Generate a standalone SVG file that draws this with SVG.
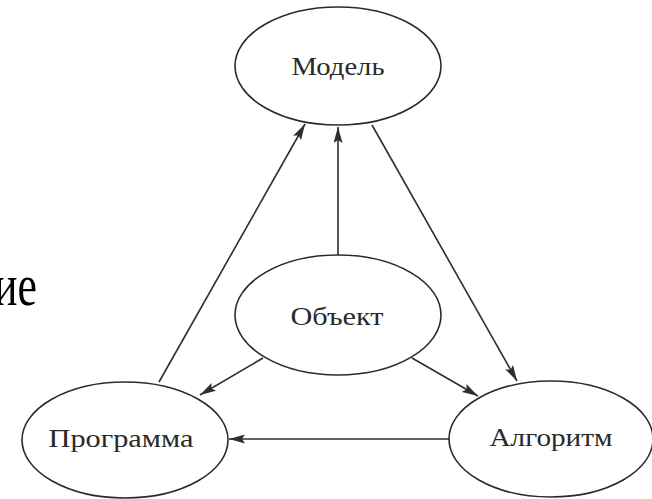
<svg xmlns="http://www.w3.org/2000/svg" width="652" height="499" viewBox="0 0 652 499">
<style>
.node ellipse{fill:#fff;stroke:#2a2a2a;stroke-width:1.6}
.node text{font-family:"Liberation Serif","Times New Roman",serif;font-size:25px;fill:#2a2a2a;text-anchor:middle}
.edges line{stroke:#2e2e2e;stroke-width:1.6;marker-end:url(#arr)}
.big{font-family:"Liberation Serif","Times New Roman",serif;font-size:60px;fill:#000}
</style>
<defs>
<marker id="arr" markerUnits="userSpaceOnUse" markerWidth="18" markerHeight="10" refX="16" refY="4.5" orient="auto">
<path d="M0,0 L16,4.5 L0,9 L3,4.5 z" fill="#2e2e2e"/>
</marker>
</defs>
<rect width="652" height="499" fill="#fff"/>
<text class="big" x="-6" y="305" textLength="43" lengthAdjust="spacingAndGlyphs">ие</text>
<g class="edges">
<line x1="338" y1="255" x2="338" y2="127"/>
<line x1="159" y1="382" x2="305" y2="124"/>
<line x1="372" y1="125" x2="517" y2="381"/>
<line x1="263" y1="358" x2="200" y2="395"/>
<line x1="412" y1="358" x2="478" y2="396"/>
<line x1="449" y1="439" x2="229" y2="439"/>
</g>
<g class="node" id="model">
<ellipse cx="338" cy="66" rx="103" ry="59"/>
<text x="338" y="75" textLength="93" lengthAdjust="spacingAndGlyphs">Модель</text>
</g>
<g class="node" id="object">
<ellipse cx="338" cy="315" rx="103" ry="60"/>
<text x="337" y="325" textLength="93" lengthAdjust="spacingAndGlyphs">Объект</text>
</g>
<g class="node" id="program">
<ellipse cx="125" cy="440" rx="103" ry="58"/>
<text x="121" y="447" textLength="145" lengthAdjust="spacingAndGlyphs">Программа</text>
</g>
<g class="node" id="algorithm">
<ellipse cx="551" cy="439" rx="102" ry="58"/>
<text x="551" y="446" textLength="123" lengthAdjust="spacingAndGlyphs">Алгоритм</text>
</g>
</svg>
